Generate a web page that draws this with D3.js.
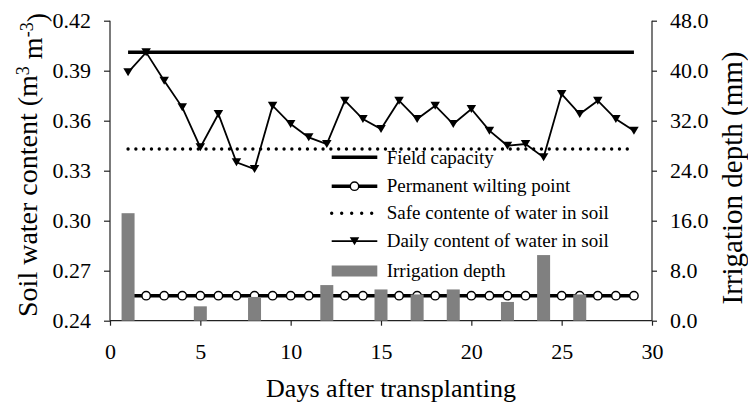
<!DOCTYPE html>
<html>
<head>
<meta charset="utf-8">
<script src="https://cdn.jsdelivr.net/npm/d3@7"></script>
<style>
  html, body { margin: 0; padding: 0; background: #fff; }
  svg { display: block; }
  text { font-family: "Liberation Serif", "Times New Roman", serif; }
</style>
</head>
<body>
<svg id="chart" width="748" height="404"></svg>
<script>
// ---- data ----
const days = [1,2,3,4,5,6,7,8,9,10,11,12,13,14,15,16,17,18,19,20,21,22,23,24,25,26,27,28,29];
const dailyContent = [0.389,0.401,0.384,0.368,0.344,0.364,0.335,0.331,0.369,0.358,0.350,0.346,0.372,0.361,0.355,0.372,0.361,0.369,0.358,0.367,0.354,0.345,0.346,0.338,0.376,0.364,0.372,0.361,0.354];
const fieldCapacity = 0.401;
const safeContent = 0.343;
const wiltingPoint = 0.255;
const irrigationDays = [1,5,8,12,15,17,19,22,24,26];
const irrigationDepth = [17.2,2.3,3.8,5.7,5.0,4.2,5.0,3.0,10.5,4.2];
const leftTicks = [0.24,0.27,0.30,0.33,0.36,0.39,0.42];
const rightTicks = [0,8,16,24,32,40,48];
const xTicks = [0,5,10,15,20,25,30];
const legendLabels = ["Field capacity","Permanent wilting point","Safe contente of water in soil","Daily content of water in soil","Irrigation depth"];

// ---- layout ----
const FONT = '"Liberation Serif", "Times New Roman", serif';
const svg = d3.select("#chart");
const L = 110, R = 652, T = 20.7, B = 320.7;
const x = d3.scaleLinear().domain([0,30]).range([L,R]);
const y = d3.scaleLinear().domain([0.24,0.42]).range([B,T]);
const y2 = d3.scaleLinear().domain([0,48]).range([B,T]);
const ink = "#000";

// axes
const fontTick = 22;
const gL = svg.append("g").attr("transform",`translate(${L},0)`)
  .call(d3.axisLeft(y).tickValues(leftTicks).tickFormat(d3.format(".2f")).tickSize(6).tickPadding(13));
const gR = svg.append("g").attr("transform",`translate(${R},0)`)
  .call(d3.axisRight(y2).tickValues(rightTicks).tickFormat(d3.format(".1f")).tickSize(5).tickPadding(13));
const gB = svg.append("g").attr("transform",`translate(0,${B})`)
  .call(d3.axisBottom(x).tickValues(xTicks).tickFormat(d3.format("d")).tickSize(5).tickPadding(18));
[gL,gR,gB].forEach(g=>{
  g.attr("font-family",FONT).attr("font-size",fontTick);
  g.select(".domain").attr("stroke","#222").attr("stroke-width",1.2);
  g.selectAll(".tick line").attr("stroke","#222").attr("stroke-width",1.2);
  g.selectAll(".tick text").attr("fill",ink).attr("font-family",FONT).style("font-size",fontTick+"px");
});
gL.select(".domain").attr("d",`M0,${T}V${B}`);
gR.select(".domain").attr("d",`M0,${T}V${B}`);
gB.select(".domain").attr("d",`M${L},0H${R}`);

const lineGen = d3.line().x(d=>x(d[0])).y(d=>y(d[1]));

// field capacity
svg.append("path").attr("d", lineGen([[days[0],fieldCapacity],[days[days.length-1],fieldCapacity]]))
  .attr("stroke",ink).attr("stroke-width",3.5).attr("fill","none");

// safe content (dotted)
svg.append("path").attr("d", lineGen([[days[0],safeContent],[days[days.length-1],safeContent]]))
  .attr("stroke",ink).attr("stroke-width",3.4).attr("stroke-linecap","round")
  .attr("stroke-dasharray","0 7.8").attr("fill","none");

// wilting point line + circles
svg.append("path").attr("d", lineGen(days.map(d=>[d,wiltingPoint])))
  .attr("stroke",ink).attr("stroke-width",3.5).attr("fill","none");
svg.append("g").selectAll("circle").data(days).join("circle")
  .attr("cx",d=>x(d)).attr("cy",y(wiltingPoint)).attr("r",4.2)
  .attr("fill","#fff").attr("stroke",ink).attr("stroke-width",1.4);

// irrigation bars
const barW = 13;
svg.append("g").selectAll("rect").data(irrigationDays.map((d,i)=>[d,irrigationDepth[i]])).join("rect")
  .attr("x",d=>x(d[0])-barW/2).attr("width",barW)
  .attr("y",d=>y2(d[1])).attr("height",d=>y2(0)-y2(d[1]))
  .attr("fill","#808080");

// daily content line + triangles
svg.append("path").attr("d", lineGen(days.map((d,i)=>[d,dailyContent[i]])))
  .attr("stroke",ink).attr("stroke-width",1.8).attr("fill","none");
const tri = (cx,cy,w=9.5,h=8)=>`M${cx-w/2},${cy-h/2}L${cx+w/2},${cy-h/2}L${cx},${cy+h/2}Z`;
svg.append("g").selectAll("path").data(days).join("path")
  .attr("d",(d,i)=>tri(x(d),y(dailyContent[i]))).attr("fill",ink);

// legend
const lg = svg.append("g");
const lx0 = 331.7, lx1 = 377.3, ltx = 386.7;
const rowY = [157.3,186.2,213.2,241.2,271];
legendLabels.forEach((lab,i)=>{
  const yy = rowY[i];
  if (i===0) {
    lg.append("line").attr("x1",lx0).attr("x2",lx1).attr("y1",yy).attr("y2",yy).attr("stroke",ink).attr("stroke-width",3.5);
  } else if (i===1) {
    lg.append("line").attr("x1",lx0).attr("x2",lx1).attr("y1",yy).attr("y2",yy).attr("stroke",ink).attr("stroke-width",3.5);
    lg.append("circle").attr("cx",(lx0+lx1)/2).attr("cy",yy).attr("r",4.2).attr("fill","#fff").attr("stroke",ink).attr("stroke-width",1.4);
  } else if (i===2) {
    lg.append("line").attr("x1",lx0).attr("x2",lx1).attr("y1",yy).attr("y2",yy).attr("stroke",ink).attr("stroke-width",3.4)
      .attr("stroke-linecap","round").attr("stroke-dasharray","0 10");
  } else if (i===3) {
    lg.append("line").attr("x1",lx0).attr("x2",lx1).attr("y1",yy).attr("y2",yy).attr("stroke",ink).attr("stroke-width",1.8);
    lg.append("path").attr("d",tri((lx0+lx1)/2,yy)).attr("fill",ink);
  } else {
    lg.append("rect").attr("x",lx0).attr("y",yy-5.5).attr("width",lx1-lx0).attr("height",11).attr("fill","#808080");
  }
  lg.append("text").attr("x",ltx).attr("y",yy).attr("dy","0.33em").attr("fill",ink)
    .attr("font-family",FONT).style("font-size","19px").text(lab);
});

// axis titles
svg.append("text").attr("x",391).attr("y",397).attr("text-anchor","middle")
  .attr("font-family",FONT).style("font-size","26px").attr("fill",ink).text("Days after transplanting");

const lt = svg.append("text").attr("transform","translate(37,165) rotate(-90)")
  .attr("text-anchor","middle").attr("font-family",FONT).style("font-size","28px").attr("fill",ink);
lt.append("tspan").text("Soil water content  (m");
lt.append("tspan").attr("dy","-0.45em").style("font-size","18px").text("3");
lt.append("tspan").attr("dy","0.45em").text(" m");
lt.append("tspan").attr("dy","-0.45em").style("font-size","18px").text("-3");
lt.append("tspan").attr("dy","0.45em").text(")");

svg.append("text").attr("transform","translate(742,178) rotate(-90)")
  .attr("text-anchor","middle").attr("font-family",FONT).style("font-size","29px").attr("fill",ink).text("Irrigation depth (mm)");
</script>
</body>
</html>
